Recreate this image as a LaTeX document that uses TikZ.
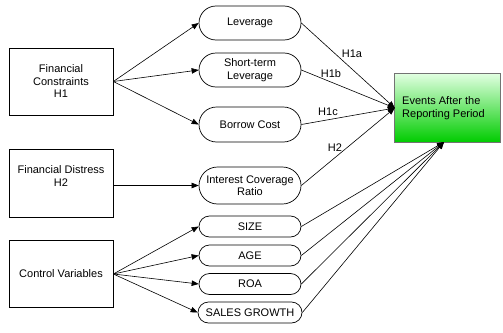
\documentclass[tikz,border=0pt]{standalone}
\usepackage{fontspec}
\setmainfont{Liberation Sans}
\usetikzlibrary{arrows.meta,shapes.misc}
\begin{document}
\begin{tikzpicture}[x=1pt,y=-1pt,
  font=\fontsize{11}{12.5}\selectfont,
  box/.style={draw,line width=0.7pt,minimum width=104pt,minimum height=67pt,align=center,inner sep=0pt},
  pill/.style={draw,rounded rectangle,line width=0.7pt,minimum width=104pt,align=center,inner sep=1pt},
  arr/.style={-{Triangle[length=7pt,width=5.5pt]},line width=0.6pt},
  lab/.style={inner sep=0pt}]
\useasboundingbox (0,0) rectangle (503,332);
% left boxes
\node[box] (fc) at (61,81.5) {Financial\\Constraints\\H1};
\node[box,minimum height=68pt] (fd) at (61,183) {};
\node[align=center,inner sep=0pt] (fdt) at (61,176) {Financial Distress\\H2};
\node[box] (cv) at (61,274) {Control Variables};
% pills
\node[pill,minimum height=34pt] (lev) at (250,23) {Leverage};
\node[pill,minimum height=34pt] (stl) at (250,70) {Short-term\\Leverage};
\node[pill,minimum height=35pt] (bc) at (250,124.5) {Borrow Cost};
\node[pill,minimum height=37pt] (icr) at (250,185.5) {Interest Coverage\\Ratio};
\node[pill,minimum height=21pt] (size) at (250,226.5) {SIZE};
\node[pill,minimum height=21pt] (age) at (250,255.5) {AGE};
\node[pill,minimum height=21pt] (roa) at (250,284) {ROA};
\node[pill,minimum height=21pt,inner xsep=0pt] (sg) at (250,312.5) {SALES GROWTH};
% target
\node[minimum width=105pt,minimum height=68pt,inner sep=0pt] (ev) at (447.5,108) {};
\shade[top color=green!12!white,bottom color=green!80!black] (ev.north west) rectangle (ev.south east);
\draw[black!55,line width=0.8pt] (ev.north west) rectangle (ev.south east);
\node[align=left,anchor=west,inner sep=0pt] (evt) at (402,108) {Events After the\\Reporting Period};
\coordinate (evl) at (ev.west);
\coordinate (evb) at (444,142);
% arrows left
\draw[arr] (fc.east) -- (lev.west);
\draw[arr] (fc.east) -- (stl.west);
\draw[arr] (fc.east) -- (bc.west);
\draw[arr] (fd.east |- icr.west) -- (icr.west);
\draw[arr] (cv.east) -- (size.west);
\draw[arr] (cv.east) -- (age.west);
\draw[arr] (cv.east) -- (roa.west);
\draw[arr] (cv.east) -- (sg.west);
% arrows right
\draw[arr] (lev.east) -- (evl);
\draw[arr] (stl.east) -- (evl);
\draw[arr] (bc.east) -- (evl);
\draw[arr] (icr.east) -- (evl);
\node[lab] (h1a) at (352,54) {H1a};
\node[lab] (h1b) at (331,74) {H1b};
\node[lab] (h1c) at (328,112) {H1c};
\node[lab] (h2) at (335,148) {H2};
\draw[arr] (size.east) -- (evb);
\draw[arr] (age.east) -- (evb);
\draw[arr] (roa.east) -- (evb);
\draw[arr] (sg.east) -- (evb);
\end{tikzpicture}
\end{document}
